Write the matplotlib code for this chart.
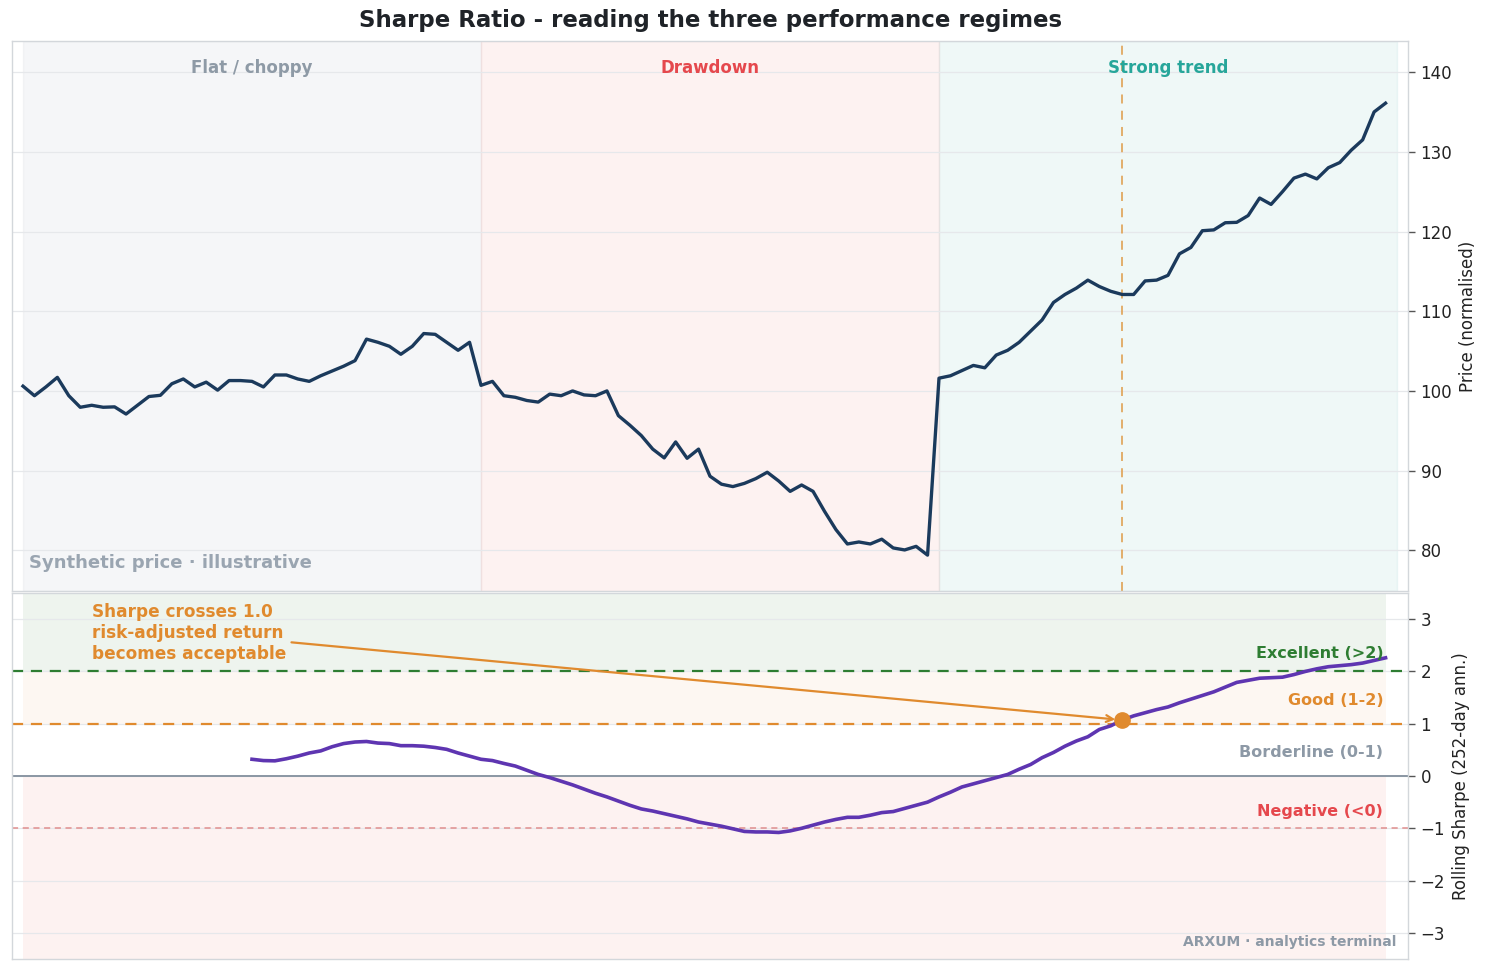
import matplotlib
matplotlib.use("Agg")
import matplotlib.pyplot as plt
import numpy as np

# ---------------- data ----------------
regimes = ["Flat / choppy", "Drawdown", "Strong trend"]
regime_bounds = [(0, 40), (40, 80), (80, 120)]

price_flat = [100.6, 99.4, 100.5, 101.7, 99.4, 97.95, 98.2, 97.95, 98.0, 97.1,
              98.2, 99.3, 99.45, 100.9, 101.5, 100.5, 101.1, 100.1, 101.3, 101.3,
              101.2, 100.5, 102.0, 102.0, 101.5, 101.2, 101.9, 102.5, 103.1, 103.8,
              106.5, 106.1, 105.6, 104.6, 105.6, 107.2, 107.1, 106.1, 105.1, 106.1]
price_draw = [100.7, 101.2, 99.4, 99.2, 98.8, 98.6, 99.6, 99.4, 100.0, 99.5,
              99.4, 100.0, 96.9, 95.7, 94.4, 92.7, 91.6, 93.6, 91.55, 92.7,
              89.3, 88.3, 88.0, 88.4, 89.0, 89.8, 88.7, 87.4, 88.2, 87.4,
              84.9, 82.6, 80.8, 81.05, 80.8, 81.4, 80.3, 80.05, 80.5, 79.4]
price_trend = [101.6, 101.9, 102.55, 103.2, 102.9, 104.5, 105.1, 106.1, 107.5, 108.9,
               111.1, 112.1, 112.9, 113.9, 113.1, 112.5, 112.1, 112.1, 113.8, 113.9,
               114.5, 117.2, 118.0, 120.1, 120.2, 121.1, 121.15, 122.0, 124.2, 123.4,
               125.0, 126.7, 127.2, 126.6, 128.0, 128.65, 130.2, 131.5, 135.0, 136.1]
price = price_flat + price_draw + price_trend
days = list(range(len(price)))

sharpe_start = 20
sharpe = [0.32, 0.295, 0.29, 0.33, 0.38, 0.44, 0.48, 0.56, 0.62, 0.65,
          0.66, 0.63, 0.62, 0.58, 0.58, 0.57, 0.545, 0.51, 0.44, 0.38,
          0.32, 0.295, 0.24, 0.19, 0.11, 0.03, -0.03, -0.10, -0.17, -0.25,
          -0.33, -0.40, -0.48, -0.56, -0.63, -0.67, -0.72, -0.77, -0.82, -0.88,
          -0.92, -0.96, -1.01, -1.06, -1.07, -1.07, -1.08, -1.05, -1.00, -0.94,
          -0.88, -0.83, -0.79, -0.79, -0.75, -0.70, -0.68, -0.62, -0.56, -0.50,
          -0.40, -0.31, -0.21, -0.15, -0.09, -0.03, 0.03, 0.13, 0.22, 0.35,
          0.45, 0.57, 0.67, 0.75, 0.89, 0.96, 1.07, 1.15, 1.21, 1.27,
          1.32, 1.40, 1.47, 1.54, 1.61, 1.70, 1.79, 1.83, 1.87, 1.88,
          1.89, 1.94, 2.0, 2.05, 2.09, 2.11, 2.13, 2.16, 2.21, 2.26]
sharpe_days = list(range(sharpe_start, sharpe_start + len(sharpe)))
cross_day = 96

band_levels = [2, 1, 0, -1]
band_labels = ["Excellent (>2)", "Good (1-2)", "Borderline (0-1)", "Negative (<0)"]
price_ticks = [80, 90, 100, 110, 120, 130, 140]
sharpe_ticks = [-3, -2, -1, 0, 1, 2, 3]

# ---------------- style ----------------
NAVY = "#1b3a5c"
PURPLE = "#5e35b1"
ORANGE = "#e08a2e"
GREEN = "#2e7d32"
RED = "#e5484d"
TEAL = "#26a69a"
GREY = "#8d99a6"
GRID = "#e6e8eb"
SPINE = "#d3d7db"

plt.rcParams["font.family"] = ["DejaVu Sans"]

fig = plt.figure(figsize=(14.88, 9.71), dpi=100)
ax1 = fig.add_axes([12/1488, 1-591/971, 1396/1488, 550/971])
ax2 = fig.add_axes([12/1488, 1-959/971, 1396/1488, 366/971], sharex=ax1)

fig.text(0.4775, 1-20.5/971, "Sharpe Ratio - reading the three performance regimes",
         ha="center", va="center", fontsize=16.5, fontweight="bold", color="#1f2328")

# ---- top panel ----
span_cols = [("#64748b", 0.06), ("#e74c3c", 0.07), ("#2aa198", 0.07)]
label_cols = ["#8e9aa6", RED, TEAL]
for (a, b), (c, al), name, lc in zip(regime_bounds, span_cols, regimes, label_cols):
    ax1.axvspan(a, b, color=c, alpha=al, zorder=0)
    ax1.text((a + b) / 2, 0.951, name, transform=ax1.get_xaxis_transform(),
             ha="center", va="center", fontsize=12, fontweight="bold", color=lc)

ax1.plot(days, price, color=NAVY, lw=2.4, zorder=3)
ax1.axvline(cross_day, color="#e0a050", lw=1.3, ls=(0, (5, 4)), alpha=0.9, zorder=2)
ax1.text(0.012, 0.05, "Synthetic price · illustrative", transform=ax1.transAxes,
         ha="left", va="center", fontsize=13, fontweight="bold", color="#9aa5b1")

ax1.set_xlim(-0.96, 120.96)
ax1.set_ylim(74.9, 143.9)
ax1.set_yticks(price_ticks)
ax1.yaxis.tick_right()
ax1.yaxis.set_label_position("right")
ax1.set_ylabel("Price (normalised)", fontsize=12, color="#222222", labelpad=5)
ax1.grid(axis="y", color=GRID, lw=0.9, zorder=1)
ax1.set_axisbelow(True)

# ---- bottom panel ----
ax2.fill_between(days, 2, 3.5, color=GREEN, alpha=0.08, lw=0, zorder=0)
ax2.fill_between(days, 1, 2, color="#e67e22", alpha=0.06, lw=0, zorder=0)
ax2.fill_between(days, -3.5, 0, color="#e74c3c", alpha=0.07, lw=0, zorder=0)

ax2.axhline(2, color=GREEN, lw=1.6, ls=(0, (5, 3.5)), zorder=2)
ax2.axhline(1, color=ORANGE, lw=1.6, ls=(0, (5, 3.5)), zorder=2)
ax2.axhline(0, color="#8a96a3", lw=1.4, zorder=2)
ax2.axhline(-1, color="#e08e8e", lw=1.1, ls=(0, (4, 3)), zorder=2)

lab_y = [2.34, 1.44, 0.44, -0.67]
lab_c = [GREEN, ORANGE, GREY, RED]
for lv, txt, yy, cc in zip(band_levels, band_labels, lab_y, lab_c):
    ax2.text(118.8, yy, txt, ha="right", va="center", fontsize=11.5,
             fontweight="bold", color=cc, zorder=4)

ax2.plot(sharpe_days, sharpe, color=PURPLE, lw=2.6, zorder=3)
cross_val = sharpe[cross_day - sharpe_start]
ax2.plot([cross_day], [cross_val], "o", color=ORANGE, ms=11, zorder=5)
ax2.annotate("Sharpe crosses 1.0\nrisk-adjusted return\nbecomes acceptable",
             xy=(cross_day, cross_val), xytext=(6.0, 2.74), textcoords="data",
             ha="left", va="center", fontsize=12.2, fontweight="bold", color=ORANGE,
             arrowprops=dict(arrowstyle="->", color=ORANGE, lw=1.6,
                             shrinkA=2, shrinkB=5), zorder=6)

ax2.text(0.9914, 0.046, "ARXUM · analytics terminal", transform=ax2.transAxes,
         ha="right", va="center", fontsize=10, fontweight="bold", color=GREY)

ax2.set_ylim(-3.5, 3.5)
ax2.set_yticks(sharpe_ticks)
ax2.yaxis.tick_right()
ax2.yaxis.set_label_position("right")
ax2.set_ylabel("Rolling Sharpe (252-day ann.)", fontsize=12, color="#222222", labelpad=5)
ax2.grid(axis="y", color=GRID, lw=0.9, zorder=1)
ax2.set_axisbelow(True)

for ax in (ax1, ax2):
    ax.tick_params(axis="x", which="both", bottom=False, labelbottom=False)
    ax.tick_params(axis="y", labelsize=12, length=5, width=1, color="#555555",
                   labelcolor="#222222", pad=4)
    for s in ax.spines.values():
        s.set_color(SPINE)
        s.set_linewidth(1.0)

fig.savefig("out.png", dpi=100, facecolor="white")
